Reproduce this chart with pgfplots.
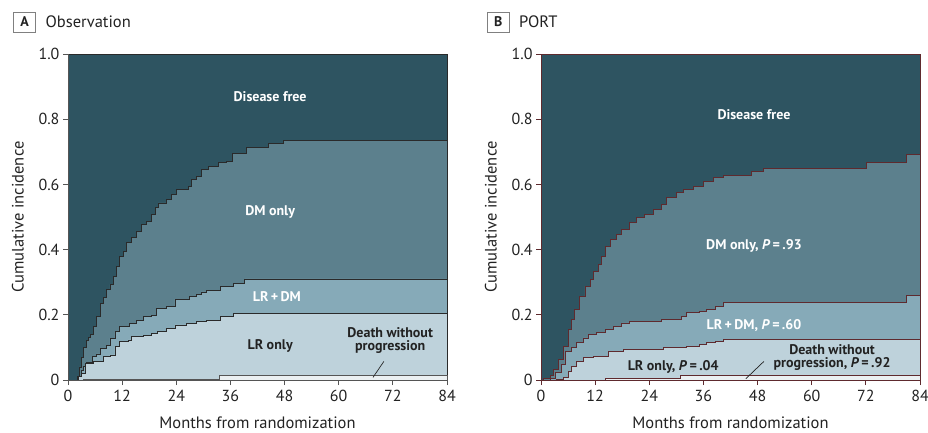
\documentclass[border=0pt]{standalone}
\usepackage{fontspec}
\setmainfont{PT Sans}
\usepackage{pgfplots}
\pgfplotsset{compat=1.18}
\definecolor{cDF}{HTML}{2E5461}
\definecolor{cDM}{HTML}{5C808D}
\definecolor{cLRDM}{HTML}{86AAB8}
\definecolor{cLR}{HTML}{BED2DB}
\definecolor{cDeath}{HTML}{EBF0F2}
\definecolor{lineA}{HTML}{2A2A2A}
\definecolor{lineB}{HTML}{5E2A2E}
\definecolor{axA}{HTML}{555555}
\definecolor{txt}{HTML}{222222}
\pgfplotsset{panel/.style={
  scale only axis, width=379pt, height=326pt, anchor=south west,
  xmin=0, xmax=84, ymin=0, ymax=1,
  axis lines*=left, axis on top,
  xtick={0,12,24,36,48,60,72,84}, xticklabels={0,12,24,36,48,60,72,84},
  ytick={0,0.2,0.4,0.6,0.8,1}, yticklabels={0,0.2,0.4,0.6,0.8,1.0},
  tick align=outside, major tick length=5pt,
  tick label style={font=\fontsize{16}{18}\selectfont, text=txt},
  xticklabel style={yshift=-2pt},
  label style={font=\fontsize{16.5}{18}\selectfont, text=txt},
  xlabel={Months from randomization}, ylabel={Cumulative incidence},
  xlabel style={yshift=-8pt},
  ylabel style={yshift=8pt},
  clip=false,
}}
\begin{document}
\begin{tikzpicture}
\path[use as bounding box] (0,0) rectangle (928pt,432pt);
% titles
\node[draw=gray, line width=0.6pt, minimum width=22pt, minimum height=20pt, inner sep=1pt, font=\bfseries\fontsize{14}{16}\selectfont, text=txt] at (24.7pt,410pt) {A};
\node[anchor=west, inner sep=0pt, font=\fontsize{16.5}{18}\selectfont, text=txt] at (45.5pt,410pt) {Observation};
\node[draw=gray, line width=0.6pt, minimum width=22pt, minimum height=20pt, inner sep=1pt, font=\bfseries\fontsize{14}{16}\selectfont, text=txt] at (498.3pt,410pt) {B};
\node[anchor=west, inner sep=0pt, font=\fontsize{16.5}{18}\selectfont, text=txt] at (519pt,410pt) {PORT};

\begin{axis}[panel, at={(68pt,52pt)}, axis line style={axA, line width=0.8pt}, tick style={axA, line width=0.8pt}]
\addplot[fill=cDF, draw=lineA, line width=0.7pt] coordinates {(0,1)(84,1)} \closedcycle;
\addplot[const plot, fill=cDM, draw=lineA, line width=0.8pt] coordinates {
(0,0)(2.0,0.01)(2.5,0.04)(3.0,0.07)(3.5,0.10)(4.0,0.12)(4.5,0.13)(5.0,0.14)(5.6,0.165)(6.4,0.196)(7.1,0.235)(7.8,0.252)(8.6,0.278)(9.3,0.293)(10.05,0.318)(10.8,0.349)(11.5,0.380)(12.3,0.395)(13.0,0.421)(14.1,0.436)(15.2,0.456)(16.3,0.477)(17.4,0.487)(18.5,0.508)(19.3,0.53)(20.0,0.543)(21.9,0.554)(23.0,0.569)(24.1,0.584)(26.7,0.594)(27.4,0.615)(28.5,0.625)(29.6,0.646)(31.1,0.656)(33.3,0.666)(35.2,0.671)(36.5,0.694)(39.5,0.712)(44.4,0.725)(47.7,0.736)(84,0.736)} \closedcycle;
\addplot[const plot, fill=cLRDM, draw=lineA, line width=0.8pt] coordinates {
(0,0)(2.3,0.01)(3.0,0.03)(3.4,0.042)(4.1,0.055)(5.5,0.071)(6.3,0.08)(7.1,0.098)(8.6,0.107)(9.3,0.128)(10.4,0.148)(11.5,0.164)(13.7,0.174)(15.2,0.184)(16.7,0.194)(18.5,0.199)(19.7,0.220)(21.9,0.225)(23.7,0.248)(27.0,0.255)(28.5,0.263)(29.5,0.27)(30.7,0.276)(33.7,0.286)(36.7,0.297)(39.2,0.31)(84,0.31)} \closedcycle;
\addplot[const plot, fill=cLR, draw=lineA, line width=0.8pt] coordinates {
(0,0)(2.3,0.01)(3.0,0.02)(3.8,0.05)(5.6,0.056)(7.8,0.071)(9.3,0.077)(10.4,0.102)(11.5,0.117)(13.3,0.123)(14.1,0.133)(16.7,0.138)(18.5,0.143)(19.8,0.150)(21.9,0.158)(23.7,0.169)(26.3,0.174)(28.5,0.179)(30.7,0.184)(33.7,0.194)(36.7,0.205)(84,0.205)} \closedcycle;
\addplot[const plot, fill=cDeath, draw=axA, line width=0.9pt] coordinates {
(0,0)(3.5,0.003)(33.5,0.015)(84,0.015)} \closedcycle;
\node[white, font=\bfseries\fontsize{14}{16}\selectfont] at (axis cs:44.8,0.87) {Disease free};
\node[white, font=\bfseries\fontsize{14}{16}\selectfont] at (axis cs:44.8,0.514) {DM only};
\node[white, font=\bfseries\fontsize{14}{16}\selectfont] at (axis cs:46.3,0.256) {LR\,+\,DM};
\node[txt, font=\bfseries\fontsize{14}{16}\selectfont] at (axis cs:44.8,0.103) {LR only};
\node[txt, font=\bfseries\fontsize{14}{16}\selectfont, align=center] at (axis cs:71.4,0.121) {Death without\\[-3pt]progression};
\draw[lineA, line width=0.7pt] (axis cs:70.0,0.057) -- (axis cs:67.6,0.008);
\end{axis}

\begin{axis}[panel, at={(541pt,52pt)}, axis line style={lineB, line width=0.8pt}, tick style={lineB, line width=0.8pt}]
\addplot[fill=cDF, draw=lineB, line width=0.7pt] coordinates {(0,1)(84,1)} \closedcycle;
\addplot[const plot, fill=cDM, draw=lineB, line width=0.8pt] coordinates {
(0,0)(0.5,0.005)(2.0,0.015)(2.7,0.032)(3.8,0.063)(4.9,0.104)(6.05,0.155)(6.8,0.186)(7.5,0.216)(8.6,0.257)(9.75,0.288)(10.9,0.308)(11.6,0.334)(12.7,0.354)(13.4,0.380)(14.2,0.410)(15.3,0.431)(16.8,0.446)(17.9,0.462)(19.7,0.482)(21.2,0.498)(23.0,0.508)(24.9,0.523)(26.7,0.538)(27.9,0.559)(30.1,0.574)(31.5,0.584)(33.8,0.594)(36.0,0.610)(38.2,0.620)(40.4,0.628)(46.7,0.639)(49.3,0.649)(72.2,0.668)(81.0,0.692)(84,0.692)} \closedcycle;
\addplot[const plot, fill=cLRDM, draw=lineB, line width=0.8pt] coordinates {
(0,0)(2.0,0.005)(3.1,0.022)(4.6,0.048)(5.3,0.088)(6.8,0.099)(7.9,0.114)(9.4,0.129)(10.5,0.140)(12.3,0.145)(14.2,0.155)(16.0,0.165)(17.9,0.175)(19.7,0.180)(26.7,0.186)(31.2,0.196)(32.3,0.206)(35.2,0.211)(36.7,0.216)(38.6,0.226)(40.4,0.237)(81.0,0.260)(84,0.260)} \closedcycle;
\addplot[const plot, fill=cLR, draw=lineB, line width=0.8pt] coordinates {
(0,0)(3.5,0.003)(4.9,0.007)(6.05,0.027)(6.8,0.042)(7.9,0.058)(9.4,0.068)(11.6,0.073)(14.9,0.088)(18.2,0.094)(27.1,0.099)(32.3,0.104)(35.2,0.109)(36.7,0.114)(38.6,0.119)(40.4,0.124)(84,0.124)} \closedcycle;
\addplot[const plot, fill=cDeath, draw=lineB, line width=0.8pt] coordinates {
(0,0)(14.2,0.005)(30.8,0.013)(84,0.013)} \closedcycle;
\node[white, font=\bfseries\fontsize{14}{16}\selectfont] at (axis cs:47.2,0.814) {Disease free};
\node[white, font=\bfseries\fontsize{14}{16}\selectfont] at (axis cs:47.2,0.41) {DM only, \textit{P}\,=\,.93};
\node[white, font=\bfseries\fontsize{14}{16}\selectfont] at (axis cs:47.2,0.167) {LR\,+\,DM, \textit{P}\,=\,.60};
\node[txt, font=\bfseries\fontsize{14}{16}\selectfont] at (axis cs:29.3,0.041) {LR only, \textit{P}\,=\,.04};
\node[txt, font=\bfseries\fontsize{14}{16}\selectfont, align=center] at (axis cs:64.5,0.069) {Death without\\[-3pt]progression, \textit{P}\,=\,.92};
\draw[txt, line width=0.7pt] (axis cs:49.4,0.057) -- (axis cs:45.4,0.004);
\end{axis}
\end{tikzpicture}
\end{document}
